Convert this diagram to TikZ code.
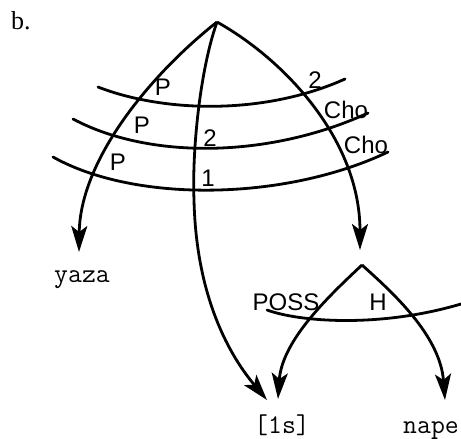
\documentclass[tikz,border=0pt]{standalone}
\usepackage{fontspec}
\setmainfont{Liberation Serif}
\setsansfont{Liberation Sans}
\usetikzlibrary{arrows.meta}
\tikzset{
    relarc/.style={line width=2.8pt, line cap=round},
    relarrow/.style={line width=2.8pt, -{Stealth[length=26pt, width=16pt, inset=6pt]}},
    rellabel/.style={font=\sffamily\fontsize{24}{24}\selectfont, inner sep=0pt},
    wordnode/.style={font=\ttfamily\fontsize{27}{27}\selectfont, inner sep=0pt, anchor=base}
}

\begin{document}
\begin{tikzpicture}[x=1pt, y=-1pt]
\useasboundingbox (0,0) rectangle (461,439);

% apexes and arrow tips
\coordinate (top) at (217,22);
\coordinate (poss) at (362,265);
\coordinate (yazaTip) at (79,252);
\coordinate (npTip) at (360,250);
\coordinate (lsTipA) at (267,400);
\coordinate (lsTipB) at (278,399);
\coordinate (napeTip) at (445,400);

\node[font=\rmfamily\fontsize{26}{26}\selectfont, inner sep=0pt, anchor=base west] (tag) at (11,30) {b.};

% words
\node[wordnode] (yaza) at (82,282) {yaza};
\node[wordnode] (ls) at (282,433) {[1s]};
\node[wordnode, anchor=base west] (nape) at (403,433) {nape};

% clause arcs
\draw[relarc] (98,87) .. controls (165,113) and (265,115) .. (345,79);
\draw[relarc] (73,119) .. controls (150,160) and (270,158) .. (368,113);
\draw[relarc] (53,157) .. controls (135,203) and (285,201) .. (388,152);

% upper arrows
\draw[relarrow] (top) .. controls (150,75) and (80,160) .. (yazaTip);
\draw[relarrow] (top) .. controls (285,60) and (360,140) .. (npTip);
\draw[relarrow] (top) .. controls (200,70) and (192,150) .. (194,200)
    .. controls (196,290) and (225,350) .. (lsTipA);

% noun phrase
\draw[relarc] (267,310) .. controls (300,322) and (380,328) .. (461,304);
\draw[relarrow] (poss) .. controls (330,295) and (282,340) .. (lsTipB);
\draw[relarrow] (poss) .. controls (392,292) and (440,335) .. (napeTip);

% arc labels
\node[rellabel] (p1) at (163,87) {P};
\node[rellabel] (p2) at (142,125) {P};
\node[rellabel] (p3) at (118,162) {P};
\node[rellabel] (two1) at (315,80) {2};
\node[rellabel] (cho1) at (346,110) {Cho};
\node[rellabel] (two2) at (210,138) {2};
\node[rellabel] (cho2) at (366,145) {Cho};
\node[rellabel] (one) at (208,178) {1};
\node[rellabel] (possl) at (286,302) {POSS};
\node[rellabel] (head) at (378,302) {H};

\end{tikzpicture}
\end{document}
